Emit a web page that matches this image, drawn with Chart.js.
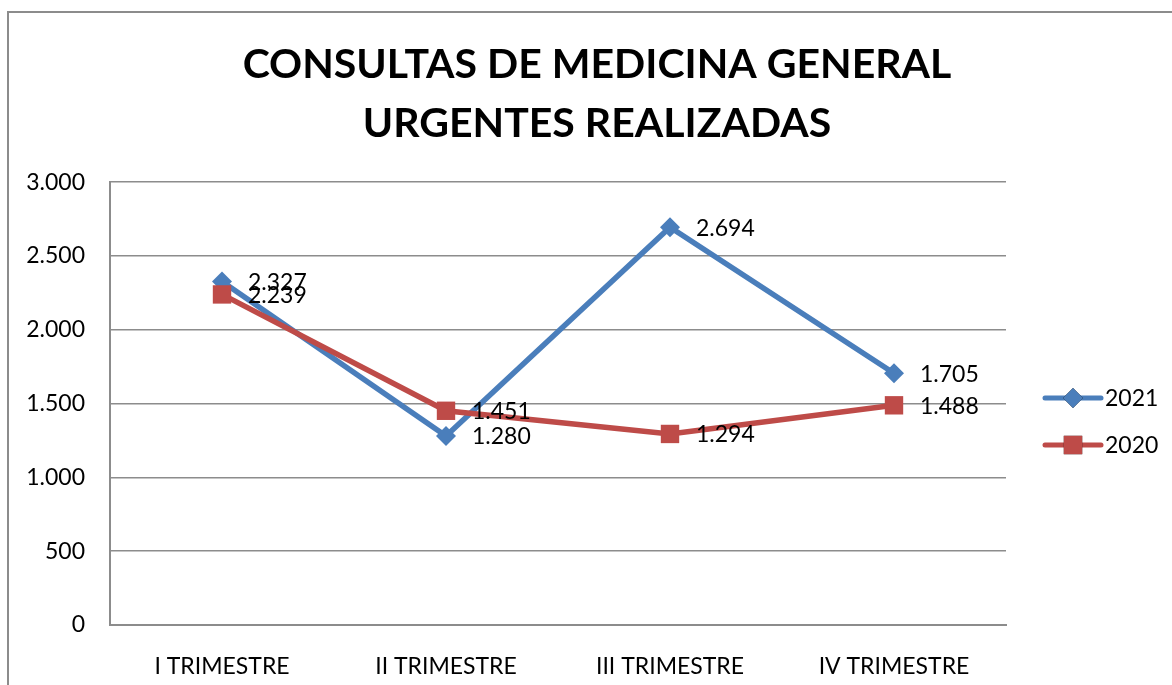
<!DOCTYPE html>
<html>
<head>
<meta charset="utf-8">
<script src="https://cdn.jsdelivr.net/npm/chart.js@4"></script>
<style>
  html, body { margin: 0; padding: 0; background: #fff; }
  #wrap { width: 1172px; height: 685px; }
</style>
</head>
<body>
<div id="wrap"><canvas id="consultasChart" width="1172" height="685"></canvas></div>
<script>
const trimestres = ['I TRIMESTRE', 'II TRIMESTRE', 'III TRIMESTRE', 'IV TRIMESTRE'];
const consultas2021 = [2327, 1280, 2694, 1705];
const consultas2020 = [2239, 1451, 1294, 1488];
const yTicks = [0, 500, 1000, 1500, 2000, 2500, 3000];

const FONT = 'Lato, "Open Sans", sans-serif';
const BLUE = '#4a7ebb';
const RED = '#be4b48';

function fmt(v) {
    return String(v).replace(/\B(?=(\d{3})+(?!\d))/g, '.');
}

// marco gris alrededor del grafico
const framePlugin = {
    id: 'frame',
    beforeDraw(chart) {
        const ctx = chart.ctx;
        ctx.save();
        ctx.fillStyle = '#fff';
        ctx.fillRect(0, 0, chart.width, chart.height);
        ctx.strokeStyle = '#8c8c8c';
        ctx.lineWidth = 2;
        ctx.strokeRect(8, 12, chart.width + 20, chart.height + 20);
        ctx.restore();
    }
};

// etiquetas de valor a la derecha de cada punto
const valueLabels = {
    id: 'valueLabels',
    afterDatasetsDraw(chart) {
        const ctx = chart.ctx;
        ctx.save();
        ctx.font = '23px ' + FONT;
        ctx.fillStyle = '#000';
        ctx.textBaseline = 'middle';
        ctx.textAlign = 'left';
        chart.data.datasets.forEach((ds, i) => {
            const meta = chart.getDatasetMeta(i);
            meta.data.forEach((pt, j) => {
                ctx.fillText(fmt(ds.data[j]), pt.x + 26, pt.y + 1);
            });
        });
        ctx.restore();
    }
};

// leyenda estilo Excel: linea con marcador
const lineLegend = {
    id: 'lineLegend',
    afterDraw(chart) {
        const ctx = chart.ctx;
        const items = [0, 1].map(i => chart.data.datasets[i]);
        const x0 = 1045, x1 = 1101;
        const ys = [398, 445];
        ctx.save();
        items.forEach((ds, k) => {
            const y = ys[k];
            ctx.strokeStyle = ds.borderColor;
            ctx.lineWidth = 5;
            ctx.lineCap = 'round';
            ctx.beginPath();
            ctx.moveTo(x0, y);
            ctx.lineTo(x1, y);
            ctx.stroke();
            Chart.helpers.drawPoint(ctx, {
                pointStyle: ds.pointStyle,
                radius: ds.pointRadius,
                borderWidth: 0
            }, (x0 + x1) / 2, y);
            ctx.fillStyle = ds.backgroundColor;
            ctx.fill();
            ctx.fillStyle = '#000';
            ctx.font = '23px ' + FONT;
            ctx.textBaseline = 'middle';
            ctx.textAlign = 'left';
            ctx.fillText(ds.label, x1 + 4, y + 1);
        });
        ctx.restore();
    }
};

const ctx = document.getElementById('consultasChart').getContext('2d');

new Chart(ctx, {
    type: 'line',
    data: {
        labels: trimestres,
        datasets: [
            {
                label: '2021',
                data: consultas2021,
                borderColor: BLUE,
                backgroundColor: BLUE,
                borderWidth: 5.5,
                pointStyle: 'rectRot',
                pointRadius: 10,
                pointBorderWidth: 0,
                tension: 0,
                order: 1
            },
            {
                label: '2020',
                data: consultas2020,
                borderColor: RED,
                backgroundColor: RED,
                borderWidth: 5.5,
                pointStyle: 'rect',
                pointRadius: 13,
                pointBorderWidth: 0,
                tension: 0,
                order: 0
            }
        ]
    },
    options: {
        responsive: false,
        animation: false,
        layout: { padding: { left: 22, right: 0, top: 0, bottom: 0 } },
        plugins: {
            legend: { display: false },
            tooltip: { enabled: false },
            title: {
                display: true,
                text: ['CONSULTAS DE MEDICINA GENERAL', 'URGENTES REALIZADAS'],
                color: '#000',
                font: { family: FONT, size: 41, weight: 'bold', lineHeight: 1.44 },
                padding: { top: 35, bottom: 29 }
            }
        },
        scales: {
            x: {
                offset: true,
                grid: { display: false },
                border: { color: '#8c8c8c', width: 2 },
                ticks: {
                    color: '#000',
                    font: { family: FONT, size: 23 },
                    padding: 20,
                    maxRotation: 0
                },
                afterFit(scale) { scale.height = 60; }
            },
            y: {
                min: 0,
                max: 3000,
                afterBuildTicks(scale) { scale.ticks = yTicks.map(v => ({ value: v })); },
                grid: { color: '#8c8c8c', lineWidth: 1.5, drawTicks: false },
                border: { color: '#8c8c8c', width: 2 },
                ticks: {
                    color: '#000',
                    font: { family: FONT, size: 23 },
                    padding: 25,
                    callback: v => fmt(v)
                },
                afterFit(scale) { scale.width = 88; }
            },
            yRight: {
                position: 'right',
                display: true,
                grid: { display: false },
                border: { display: false },
                ticks: { display: false },
                afterFit(scale) { scale.width = 166; }
            }
        }
    },
    plugins: [framePlugin, valueLabels, lineLegend]
});
</script>
</body>
</html>
